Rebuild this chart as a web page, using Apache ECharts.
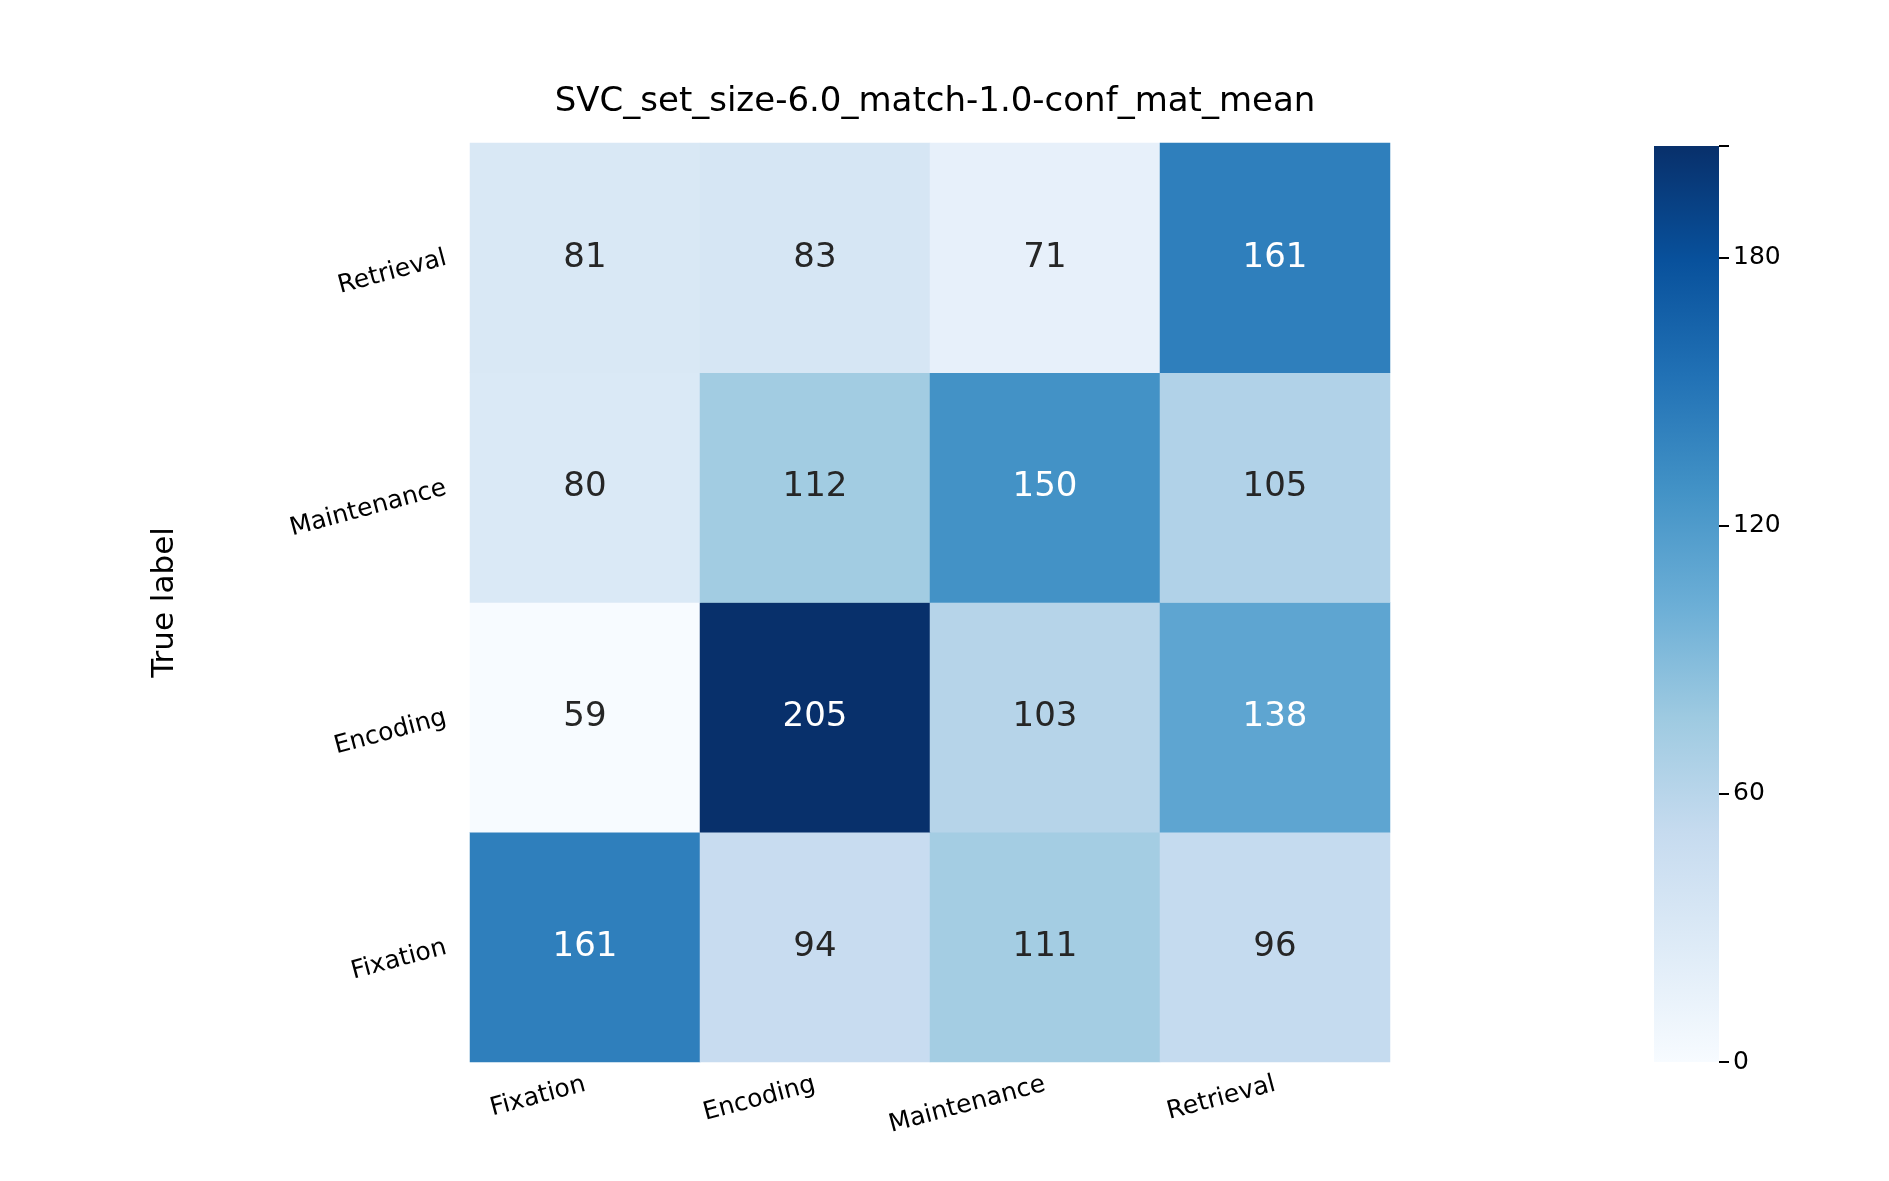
<!DOCTYPE html>
<html>
<head>
  <meta charset="utf-8">
  <script src="https://cdn.jsdelivr.net/npm/echarts@6/dist/echarts.min.js"></script>
</head>
<body style="margin:0;height:100%;">
  <div id="container" style="width:1889px;height:1181px;"></div>
  <script>
    var xLabels = ['Fixation', 'Encoding', 'Maintenance', 'Retrieval'];
    var yLabels = ['Fixation', 'Encoding', 'Maintenance', 'Retrieval'];
    // rows: true label (Fixation..Retrieval), cols: predicted
    var matrix = [
      [161, 94, 111, 96],
      [59, 205, 103, 138],
      [80, 112, 150, 105],
      [81, 83, 71, 161]
    ];
    var cbarTicks = [0, 60, 120, 180];
    var cbarMax = 205;

    var blues = ['#f7fbff', '#deebf7', '#c6dbef', '#9ecae1', '#6baed6', '#4292c6', '#2171b5', '#08519c', '#08306b'];
    var data = [];
    matrix.forEach(function (row, r) {
      row.forEach(function (v, c) {
        data.push({ value: [c, r, v], label: { color: v > 125 ? '#ffffff' : '#262626' } });
      });
    });

    var chart = echarts.init(document.getElementById('container'));
    var font = 'DejaVu Sans';
    chart.setOption({
      animation: false,
      backgroundColor: '#fff',
      textStyle: { fontFamily: font },
      title: {
        text: 'SVC_set_size-6.0_match-1.0-conf_mat_mean',
        left: 930, top: 80, textAlign: 'center',
        textStyle: { fontFamily: font, fontSize: 34, fontWeight: 'normal', color: '#000' }
      },
      grid: [
        { left: 470, top: 143, width: 920, height: 919 },
        { left: 1654, top: 146, width: 65, height: 916 }
      ],
      xAxis: [
        {
          type: 'category', data: xLabels, gridIndex: 0,
          axisLine: { show: false }, splitLine: { show: false },
          axisTick: { length: 12, alignWithLabel: true, lineStyle: { color: '#000', width: 2 } },
          axisLabel: { rotate: 15, fontSize: 25, color: '#000', margin: 22, fontFamily: font }
        },
        { type: 'category', data: [''], gridIndex: 1, show: false }
      ],
      yAxis: [
        {
          type: 'category', data: yLabels, gridIndex: 0,
          name: 'True label', nameLocation: 'middle', nameGap: 290,
          nameTextStyle: { fontSize: 31, color: '#000', fontFamily: font },
          axisLine: { show: false }, splitLine: { show: false },
          axisTick: { length: 12, alignWithLabel: true, lineStyle: { color: '#000', width: 2 } },
          axisLabel: { rotate: 15, fontSize: 25, color: '#000', margin: 24, fontFamily: font }
        },
        {
          type: 'value', gridIndex: 1, position: 'right', min: 0, max: cbarMax, interval: 60,
          axisLine: { show: false }, splitLine: { show: false },
          axisTick: { show: true, length: 10, inside: false, lineStyle: { color: '#000', width: 2 } },
          axisLabel: {
            fontSize: 25, color: '#000', margin: 14, fontFamily: font,
            formatter: function (v) { return cbarTicks.indexOf(v) >= 0 ? v : ''; }
          }
        }
      ],
      visualMap: {
        show: false, min: 59, max: 205, seriesIndex: 0, dimension: 2,
        inRange: { color: blues }
      },
      series: [
        {
          type: 'heatmap', data: data, xAxisIndex: 0, yAxisIndex: 0,
          label: { show: true, fontSize: 34, fontFamily: font, formatter: function (p) { return p.value[2]; } }
        },
        {
          type: 'bar', xAxisIndex: 1, yAxisIndex: 1, data: [cbarMax], barWidth: '100%',
          silent: true,
          itemStyle: {
            color: new echarts.graphic.LinearGradient(0, 1, 0, 0, blues.map(function (c, i) {
              return { offset: i / (blues.length - 1), color: c };
            }))
          }
        }
      ]
    });
  </script>
</body>
</html>
